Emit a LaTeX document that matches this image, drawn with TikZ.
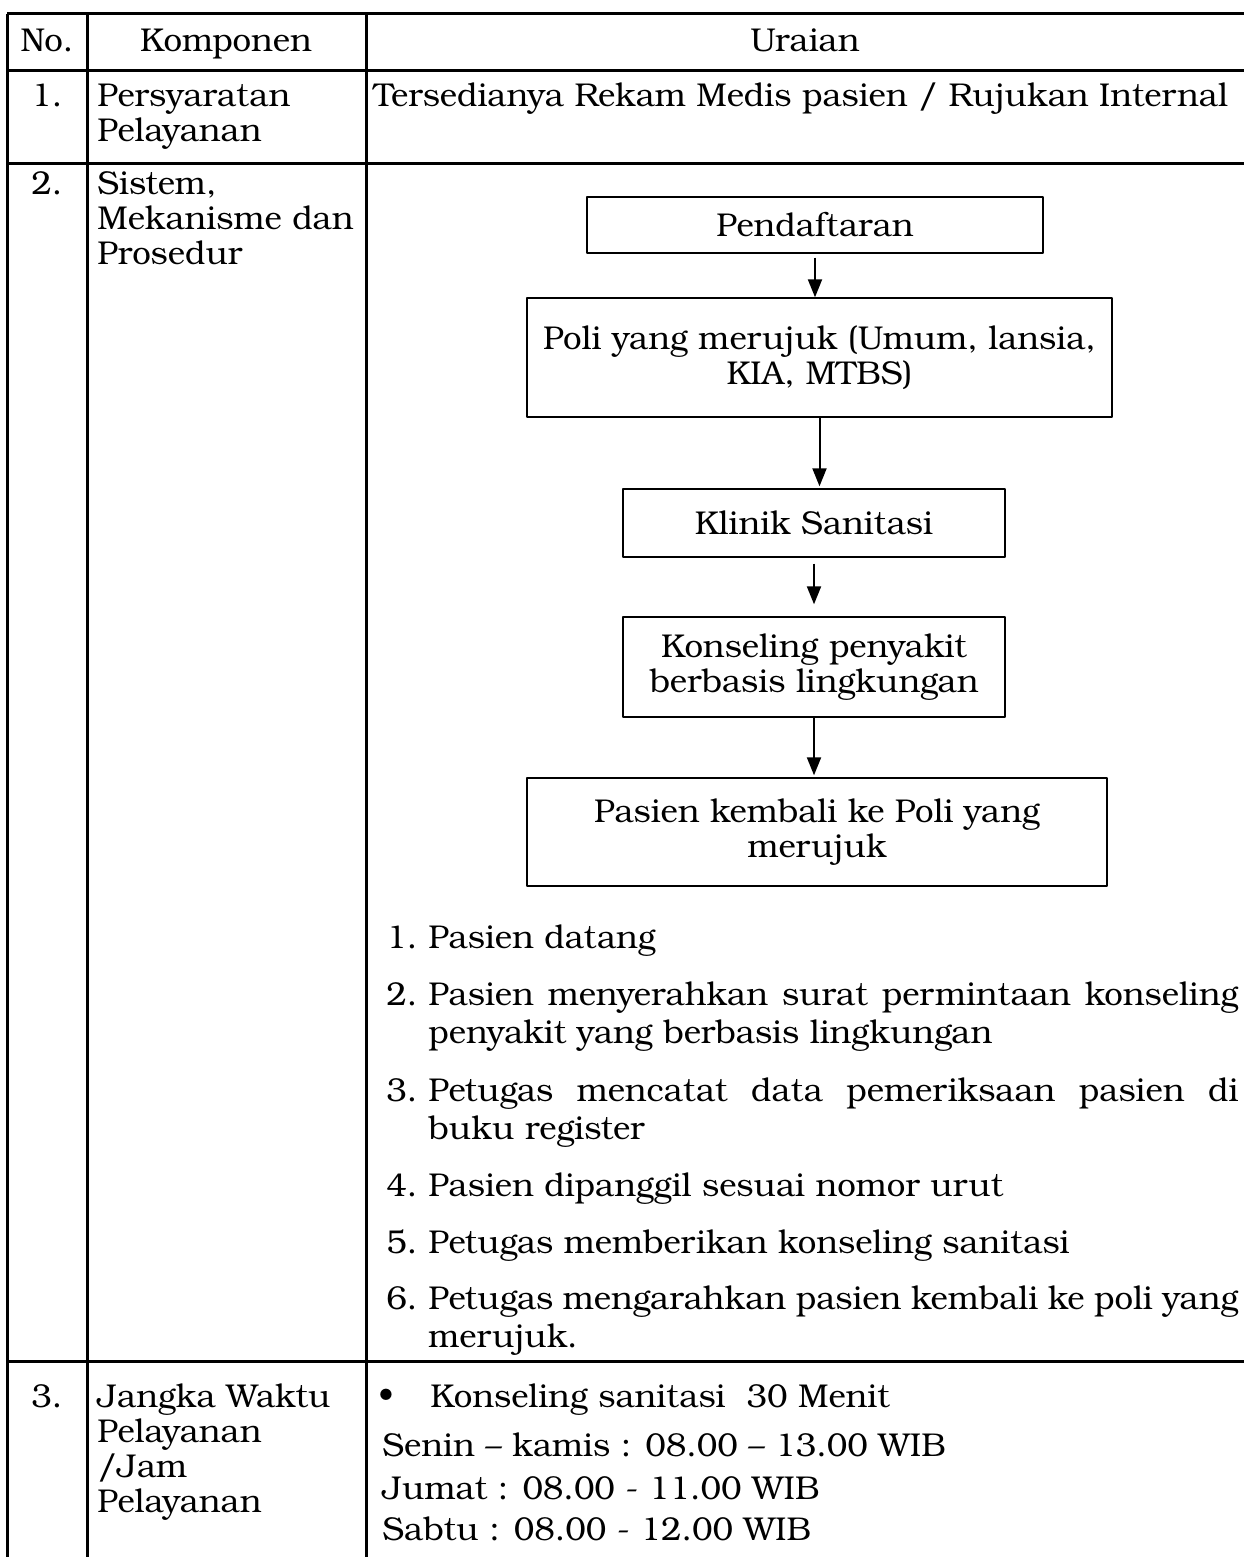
\documentclass[tikz,border=0pt]{standalone}
\usepackage{fontspec}
\setmainfont{TeX Gyre Bonum}
\usetikzlibrary{arrows.meta,positioning}
\newcommand\lnum[2]{\makebox[21pt][l]{#1}\parbox[t]{405pt}{\baselineskip=19pt #2}}
\newcommand\spread[1]{\makebox[405pt][s]{#1}}
\begin{document}
\begin{tikzpicture}[x=0.5pt,y=-0.5pt,font=\fontsize{16.5}{17.5}\selectfont,line join=round,
	tbl/.style={line width=1.5pt},
	txt/.style={inner sep=0pt,anchor=base west},
	mid/.style={inner sep=0pt,anchor=base},
	flow/.style={draw,line width=0.7pt,inner sep=0pt,align=center},
	arr/.style={line width=1pt,-{Triangle[length=9pt,width=7pt]}}]
	\useasboundingbox (0,0) rectangle (1244,1557);
	% table
	\draw[tbl] (7,14)--(1244,14) (7,71)--(1244,71) (7,164)--(1244,164) (7,1361)--(1244,1361);
	\draw[tbl] (7,14)--(7,1557) (87,14)--(87,1557) (366,14)--(366,1557);
	% header
	\node[mid] (hno) at (47,52) {No.};
	\node[mid] (hkomp) at (226,52) {Komponen};
	\node[mid] (hur) at (805,52) {Uraian};
	% row 1
	\node[mid] (n1) at (47,107) {1.};
	\node[txt] (k1) at (97,107) {\parbox[t]{135pt}{Persyaratan\\Pelayanan}};
	\node[txt] (u1) at (373,107) {Tersedianya Rekam Medis pasien / Rujukan Internal};
	% row 2
	\node[mid] (n2) at (47,195) {2.};
	\node[txt] (k2) at (97,195) {\parbox[t]{135pt}{Sistem,\\Mekanisme dan\\Prosedur}};
	\node[flow,minimum width=228pt,minimum height=28pt] (daftar) at (815,225) {Pendaftaran};
	\node[flow,minimum width=292.5pt,minimum height=59.5pt] (poli) at (819.5,357.5) {Poli yang merujuk (Umum, lansia,\\KIA, MTBS)};
	\node[flow,minimum width=191pt,minimum height=34pt] (klinik) at (814,523) {Klinik Sanitasi};
	\node[flow,minimum width=191pt,minimum height=50pt] (konsel) at (814,667) {Konseling penyakit\\berbasis lingkungan};
	\node[flow,minimum width=290pt,minimum height=54pt] (kembali) at (817,832) {Pasien kembali ke Poli yang\\merujuk};
	\draw[arr,shorten <=2pt] (daftar.south) -- (daftar.south |- poli.north);
	\draw[arr,shorten >=1pt] (poli.south) -- (poli.south |- klinik.north);
	\draw[arr,shorten <=3pt,shorten >=6pt] (klinik.south) -- (klinik.south |- konsel.north);
	\draw[arr,shorten >=1pt] (konsel.south) -- (konsel.south |- kembali.north);
	\node[txt] (s1) at (386,948) {\lnum{1.}{Pasien datang}};
	\node[txt] (s2) at (386,1005) {\lnum{2.}{\spread{Pasien menyerahkan surat permintaan konseling}\\penyakit yang berbasis lingkungan}};
	\node[txt] (s3) at (386,1101) {\lnum{3.}{\spread{Petugas mencatat data pemeriksaan pasien di}\\buku register}};
	\node[txt] (s4) at (386,1196) {\lnum{4.}{Pasien dipanggil sesuai nomor urut}};
	\node[txt] (s5) at (386,1253) {\lnum{5.}{Petugas memberikan konseling sanitasi}};
	\node[txt] (s6) at (386,1309) {\lnum{6.}{\spread{Petugas mengarahkan pasien kembali ke poli yang}\\merujuk.}};
	% row 3
	\node[mid] (n3) at (47,1407) {3.};
	\node[txt] (k3) at (97,1407) {\parbox[t]{135pt}{Jangka Waktu\\Pelayanan\\/Jam\\Pelayanan}};
	\node[txt] (w1) at (378,1407) {\makebox[26pt][l]{\textbullet}Konseling sanitasi\ \ 30 Menit};
	\node[txt] (w2) at (382,1456) {Senin -- kamis : 08.00 -- 13.00 WIB};
	\node[txt] (w3) at (382,1499) {Jumat : 08.00 - 11.00 WIB};
	\node[txt] (w4) at (382,1540) {Sabtu : 08.00 - 12.00 WIB};
\end{tikzpicture}
\end{document}
